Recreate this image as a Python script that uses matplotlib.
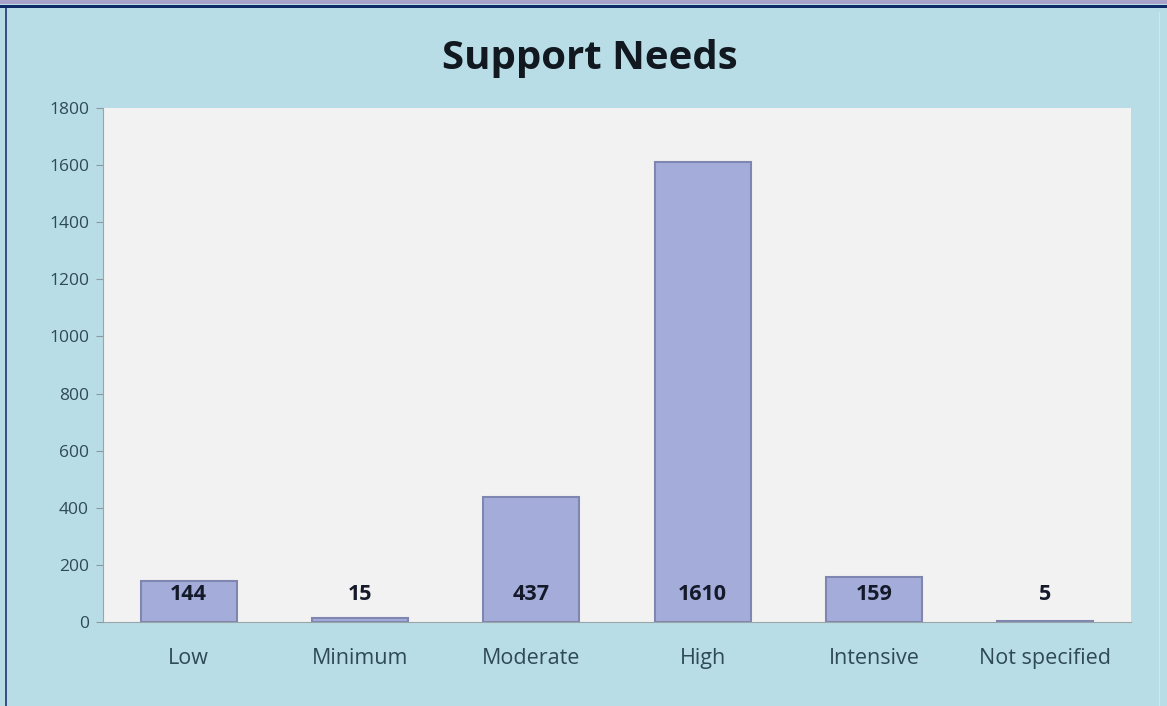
import matplotlib.pyplot as plt
from matplotlib.patches import Rectangle

categories = ['Low', 'Minimum', 'Moderate', 'High', 'Intensive', 'Not specified']
counts = [144, 15, 437, 1610, 159, 5]
y_ticks = [0, 200, 400, 600, 800, 1000, 1200, 1400, 1600, 1800]

BG = '#b8dde6'
PLOT_BG = '#f2f2f2'
BAR = '#a4acd9'
EDGE = '#7f86b0'
TEXT = '#2f4a55'

plt.rcParams['font.family'] = ['Open Sans', 'DejaVu Sans']

fig = plt.figure(figsize=(11.67, 7.06), dpi=100)
fig.patch.set_facecolor(BG)

# frame bits from the original screenshot
fig.patches.append(Rectangle((0, 1 - 4 / 706), 1, 4 / 706, transform=fig.transFigure,
                             facecolor='#a9a2c9', edgecolor='none', zorder=0))
fig.patches.append(Rectangle((0, 1 - 8 / 706), 1, 3 / 706, transform=fig.transFigure,
                             facecolor='#0d2a66', edgecolor='none', zorder=0))
fig.patches.append(Rectangle((5 / 1167, 0), 2 / 1167, 1 - 8 / 706, transform=fig.transFigure,
                             facecolor='#3f4f86', edgecolor='none', zorder=0))
fig.patches.append(Rectangle((1159 / 1167, 0), 1 / 1167, 1 - 12 / 706, transform=fig.transFigure,
                             facecolor='#cfe8ee', edgecolor='none', zorder=0))

ax = fig.add_axes([103 / 1167, 1 - 622 / 706, 1028 / 1167, 514 / 706])
ax.set_facecolor(PLOT_BG)

x = range(len(categories))
ax.bar(x, counts, width=0.56, color=BAR, edgecolor=EDGE, linewidth=1.5, zorder=2)

for i, v in enumerate(counts):
    ax.text(i, 98, str(v), ha='center', va='center', fontsize=15.5,
            fontweight='bold', color='#151a2a', zorder=3)

ax.set_xlim(-0.5, len(categories) - 0.5)
ax.set_ylim(0, 1800)
ax.set_yticks(y_ticks)
ax.set_xticks(list(x))
ax.set_xticklabels(categories)
ax.tick_params(axis='y', colors='#8a9aa0', labelcolor=TEXT, labelsize=12.5, length=5, pad=5)
ax.tick_params(axis='x', length=0, labelcolor=TEXT, labelsize=15.5, pad=19)

for side in ['top', 'right']:
    ax.spines[side].set_visible(False)
ax.spines['left'].set_color('#9aa5aa')
ax.spines['bottom'].set_color('#9aa5aa')

fig.text(590 / 1167, 1 - 69 / 706, 'Support Needs', ha='center', va='baseline',
         fontsize=29, fontweight='bold', color='#111820')

plt.savefig('out.png', dpi=100, facecolor=fig.get_facecolor())
